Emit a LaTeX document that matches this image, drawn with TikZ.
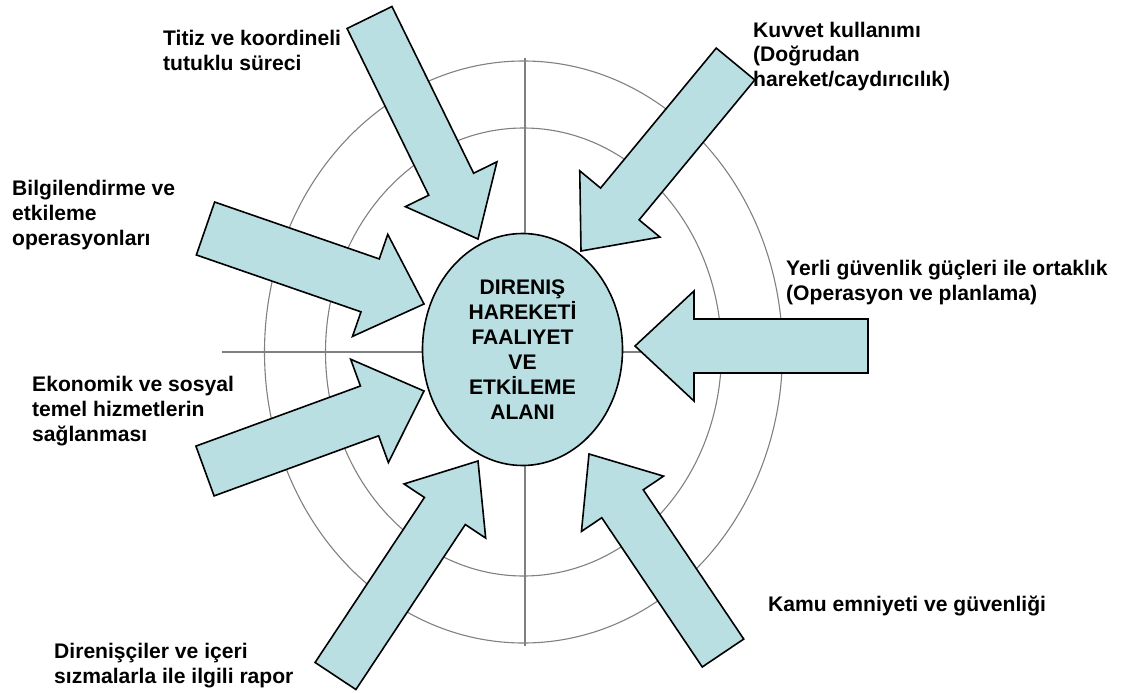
\documentclass[tikz,border=0pt]{standalone}
\usepackage{fontspec}
\setmainfont{Liberation Sans}
\usetikzlibrary{calc,shapes.geometric}

\definecolor{zonefill}{RGB}{185,223,227}
\definecolor{ringgray}{RGB}{128,128,128}

\tikzset{
  ring/.style={draw=ringgray, line width=1.1pt},
  blockarrow/.style={draw=black, fill=zonefill, line width=1.6pt, line join=miter},
  core/.style={ellipse, draw=black, fill=zonefill, line width=1.6pt,
    minimum width=200pt, minimum height=232pt, inner sep=0pt,
    align=center, font=\bfseries\fontsize{21.1}{25}\selectfont},
  % multi-line labels are placed by the baseline of their last line
  label/.style={anchor=base west, align=left, inner sep=0pt,
    font=\bfseries\fontsize{21.1}{25}\selectfont},
}

% Wide block arrow: name, tail middle, tip, half shaft width, half head width, head length
\newcommand{\blockarrow}[6]{%
  \coordinate (#1-t) at (#2);
  \coordinate (#1-h) at (#3);
  \coordinate (#1-b) at ($(#1-h)!#6!(#1-t)$);
  \draw[blockarrow]
    ($(#1-t)!#4!90:(#1-h)$) -- ($(#1-b)!#4!90:(#1-h)$) --
    ($(#1-b)!#5!90:(#1-h)$) -- (#1-h) --
    ($(#1-b)!#5!-90:(#1-h)$) -- ($(#1-b)!#4!-90:(#1-h)$) --
    ($(#1-t)!#4!-90:(#1-h)$) -- cycle;
}

\begin{document}
\begin{tikzpicture}[x=1pt,y=-1pt]
\useasboundingbox (0,0) rectangle (1130,693);

% background rings and axes
\coordinate (mid) at (523.5,352);
\draw[ring] (mid) ellipse [x radius=259pt, y radius=291pt];
\draw[ring] (mid) ellipse [x radius=198pt, y radius=224pt];
\coordinate (axL) at (222,352);
\coordinate (axR) at (828,352);
\coordinate (axT) at (525,58);
\coordinate (axB) at (525,646);
\draw[ring] (axL) -- (axR);
\draw[ring] (axT) -- (axB);

% labels
\node[label] (lTitiz) at (163,70.5) {Titiz ve koordineli\\tutuklu süreci};
\node[label] (lKuvvet) at (753,87) {Kuvvet kullanımı\\(Doğrudan\\hareket/caydırıcılık)};
\node[label] (lBilgi) at (12,245) {Bilgilendirme ve\\etkileme\\operasyonları};
\node[label] (lYerli) at (786,300) {Yerli güvenlik güçleri ile ortaklık\\(Operasyon ve planlama)};
\node[label] (lEkon) at (32,441) {Ekonomik ve sosyal\\temel hizmetlerin\\sağlanması};
\node[label] (lDiren) at (54,683) {Direnişçiler ve içeri\\sızmalarla ile ilgili rapor};
\node[label] (lKamu) at (768,611) {Kamu emniyeti ve güvenliği};

% block arrows pointing at the centre
\blockarrow{aTitiz}{369.5,17.5}{478,239}{25pt}{51pt}{61pt}
\blockarrow{aKuvvet}{735.5,64}{581,251}{25pt}{52pt}{61pt}
\blockarrow{aBilgi}{205.5,228.5}{424,304}{28pt}{54pt}{57pt}
\blockarrow{aEkon}{205,471}{424,391}{26.5pt}{55pt}{58pt}
\blockarrow{aDiren}{335.5,676}{478,461}{24.5pt}{49pt}{60pt}
\blockarrow{aKamu}{723,653}{589,454}{25pt}{49.5pt}{60pt}
\blockarrow{aYerli}{868,346}{635,346}{27pt}{55pt}{59pt}

% centre
\node[core] (zone) at (522.5,349.5) {DIRENIŞ\\HAREKETİ\\FAALIYET\\VE\\ETKİLEME\\ALANI};
\end{tikzpicture}
\end{document}
